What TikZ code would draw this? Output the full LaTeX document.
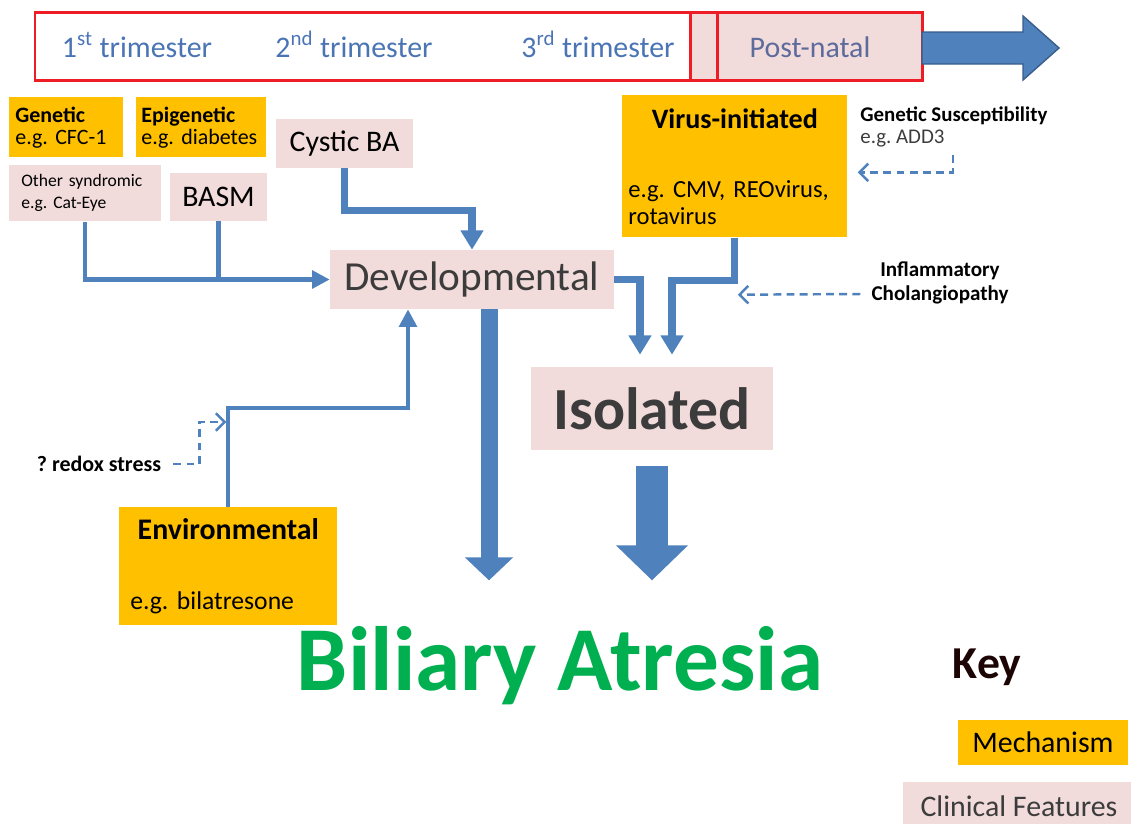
\documentclass[tikz,border=0pt]{standalone}
\usepackage{fontspec}
\setmainfont{Carlito}
\usetikzlibrary{arrows.meta,calc}

\definecolor{mechorange}{HTML}{FFC000}
\definecolor{clinpink}{HTML}{F2DCDB}
\definecolor{flowblue}{HTML}{4F81BD}
\definecolor{darkblue}{HTML}{385D8A}
\definecolor{tlred}{HTML}{EE1C25}
\definecolor{triblue}{HTML}{4A74B4}
\definecolor{postgray}{HTML}{5D6A9C}
\definecolor{hatchgray}{HTML}{3C3C3C}
\definecolor{bagreen}{HTML}{00B050}
\definecolor{keydark}{HTML}{1E0505}

\newcommand{\fsz}[2]{\fontsize{#1}{#2}\selectfont}

\frenchspacing

\tikzset{
  mech/.style={fill=mechorange, inner ysep=0pt},
  clin/.style={fill=clinpink, inner ysep=0pt},
  trilabel/.style={font=\fsz{17}{20}, text=triblue, anchor=base},
  thinflow/.style={draw=flowblue, line width=2.3pt, -{Triangle[length=10pt,width=10pt]}},
  flow/.style={draw=flowblue, line width=4pt, -{Triangle[length=11pt,width=12.5pt]}},
  hint/.style={draw=flowblue, line width=1.4pt, dash pattern=on 4.5pt off 3pt,
    -{Straight Barb[length=5pt,width=10pt]}}
}

\begin{document}
\begin{tikzpicture}[x=0.02cm, y=-0.02cm]
    \useasboundingbox (0,0) rectangle (1131,823);

    % Timeline bar
    \fill[clinpink] (690,12) rectangle (922,80);
    \draw[tlred, line width=1.7pt] (35,12) rectangle (922,80);
    \draw[tlred, line width=1.7pt] (690,12) -- (690,80) (717,12) -- (717,80);
    \foreach \x/\n/\s in {137/1/st, 354/2/nd, 598/3/rd} {
        \node[trilabel] (tri\n) at (\x,57) {\n\textsuperscript{\s} trimester};
    }
    \node[trilabel, text=postgray] (post) at (810,57) {Post-natal};
    \filldraw[fill=flowblue, draw=darkblue, line width=0.8pt]
        (922,32) -- (1023,32) -- (1023,16) -- (1059,48) -- (1023,80) -- (1023,64) -- (922,64) -- cycle;

    % Mechanisms
    \node[mech, anchor=north west, text width=2.04cm, inner xsep=0.12cm, minimum height=1.2cm,
        align=left, font=\fsz{12.5}{12.5}] (gen) at (9,97) {\textbf{Genetic}\\e.g. CFC-1};
    \node[mech, anchor=north west, text width=2.4cm, inner xsep=0.1cm, minimum height=1.2cm,
        align=left, font=\fsz{12.5}{12.5}] (epi) at (136,97) {\textbf{Epigenetic}\\e.g. diabetes};
    \node[mech, anchor=north west, text width=4.26cm, inner xsep=0.12cm, minimum height=2.84cm,
        align=left, font=\fsz{14}{15}] (virus) at (622,95)
        {\makebox[\hsize]{\fsz{16}{15}\bfseries Virus-initiated}\\[24.5pt]e.g. CMV, REOvirus,\\rotavirus};
    \node[mech, anchor=north west, text width=3.92cm, inner xsep=0.22cm, minimum height=2.36cm,
        align=left, font=\fsz{14.6}{18}] (env) at (119,507)
        {\makebox[\hsize]{\fsz{17}{18}\bfseries Environmental}\\[22pt]e.g. bilatresone};

    % Clinical features
    \node[clin, anchor=north west, text width=2.56cm, inner xsep=0.24cm, minimum height=1.12cm,
        align=left, font=\fsz{10}{12.5}] (other) at (9,165) {Other syndromic\\e.g. Cat-Eye};
    \node[clin, minimum width=1.94cm, minimum height=0.96cm, font=\fsz{17}{20}] (basm) at (218.5,197) {BASM};
    \node[clin, minimum width=2.74cm, minimum height=0.98cm, font=\fsz{17}{20}] (cystic) at (344.5,143.5) {Cystic BA};
    \node[clin, minimum width=5.68cm, minimum height=1.18cm, font=\fsz{23.5}{26}, text=hatchgray] (devel) at (472,279.5) {Developmental};
    \node[clin, minimum width=4.84cm, minimum height=1.66cm, font=\fsz{34}{38}\bfseries, text=hatchgray] (iso) at (652,408.5) {Isolated};

    % Modifiers
    \node[anchor=north west, align=left, inner sep=0pt, font=\fsz{11.9}{13}] (gensus) at (860,106)
        {\textbf{Genetic Susceptibility}\\\textcolor{hatchgray}{e.g. ADD3}};
    \node[align=center, font=\fsz{12}{13.6}\bfseries] (infl) at (940,283) {Inflammatory\\Cholangiopathy};
    \node[font=\fsz{12.5}{14}\bfseries] (redox) at (99,464) {? redox stress};
    \coordinate (gsfoot) at (953,155);
    \coordinate (envin) at ($(env.north)+(-2,-85)$);

    % Connectors
    \draw[thinflow] (other.south) |- (devel.west);
    \draw[flowblue, line width=3.4pt] (basm.south) -- (basm.south |- devel.west);
    \draw[flow] (cystic.south) -- ++(0,42) -| (devel.north);
    \draw[thinflow] (env.north) -- ++(0,-99) -| ($(devel.south)+(-64,0)$);
    \draw[flow] (devel.east) -| ($(iso.north)+(-12,-12)$);
    \draw[flow] (virus.south) -- ++(0,43) -| ($(iso.north)+(20,-12)$);
    \draw[hint] (gsfoot) |- ($(virus.east)+(10,6)$);
    \draw[hint] ($(infl.west)+(-5,11)$) -- ($(virus.south)+(3,57)$);
    \draw[hint] ($(redox.east)+(6,0)$) -- ++(26,0) |- (envin);

    % Big arrows to the outcome
    \draw[flowblue, line width=0.34cm, -{Triangle[length=0.46cm,width=0.94cm]}]
        ($(devel.south)+(17,0)$) -- ++(0,271);
    \draw[flowblue, line width=0.64cm, -{Triangle[length=0.7cm,width=1.4cm]}]
        ($(iso.south)+(0,16)$) -- ++(0,114);

    % Outcome
    \node[anchor=base, font=\fsz{52}{60}\bfseries, text=bagreen] (ba) at (560,690) {Biliary Atresia};

    % Key
    \node[anchor=base, font=\fsz{26}{30}\bfseries, text=keydark] (key) at (987,678) {Key};
    \node[mech, minimum width=3.4cm, minimum height=0.9cm, font=\fsz{17}{20}] (keymech) at (1043,742.5) {Mechanism};
    \node[clin, minimum width=4.64cm, minimum height=0.96cm, font=\fsz{17}{20}, text=hatchgray] (keyclin) at (1019,806) {Clinical Features};
\end{tikzpicture}
\end{document}
